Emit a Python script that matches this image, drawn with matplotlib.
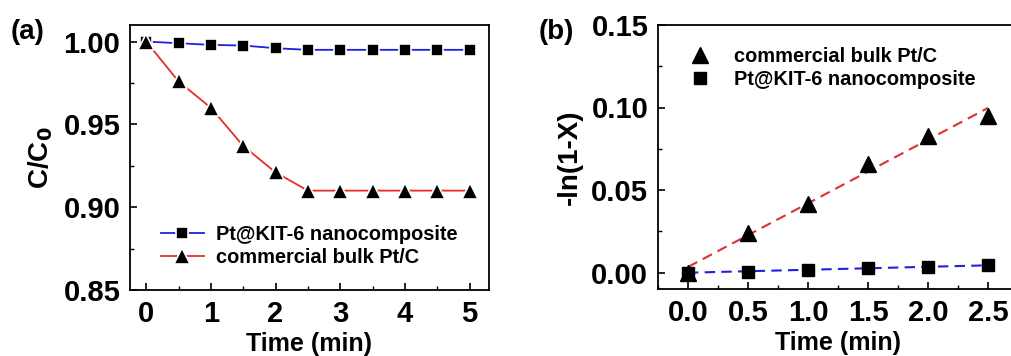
import numpy as np
import matplotlib
matplotlib.use('Agg')
import matplotlib.pyplot as plt
from matplotlib.ticker import MultipleLocator

plt.rcParams['font.family'] = ['Liberation Sans', 'DejaVu Sans']
plt.rcParams['font.weight'] = 'bold'

# ---- data (a) ----
time_a = [0, 0.5, 1, 1.5, 2, 2.5, 3, 3.5, 4, 4.5, 5]
kit6_a = [1.000, 0.999, 0.998, 0.9976, 0.996, 0.995, 0.995, 0.995, 0.995, 0.995, 0.995]
bulk_a = [1.000, 0.976, 0.960, 0.937, 0.921, 0.910, 0.910, 0.910, 0.910, 0.910, 0.910]

# ---- data (b) ----
time_b = [0, 0.5, 1.0, 1.5, 2.0, 2.5]
bulk_b = [0.000, 0.0242, 0.0416, 0.0658, 0.0828, 0.0949]
kit6_b = [0.000, 0.0006, 0.0018, 0.0025, 0.0033, 0.0045]

blue = '#2020e0'
red = '#e03030'

fig = plt.figure(figsize=(10.11, 3.56), dpi=100)
W, H = 1011, 356
ax1 = fig.add_axes([130 / W, 1 - 290 / H, 359 / W, 265 / H])
ax2 = fig.add_axes([658 / W, 1 - 289 / H, 360 / W, 264 / H])

mk = dict(markeredgecolor='white', markeredgewidth=1.2)
ax1.plot(time_a, kit6_a, '-', color=blue, lw=1.3, marker='s', markersize=9,
         markerfacecolor='black', label='Pt@KIT-6 nanocomposite', **mk)
ax1.plot(time_a, bulk_a, '-', color=red, lw=1.3, marker='^', markersize=11.5,
         markerfacecolor='black', label='commercial bulk Pt/C', **mk)
ax1.set_xlim(-0.25, 5.3)
ax1.set_ylim(0.85, 1.01)
ax1.set_xticks([0, 1, 2, 3, 4, 5])
ax1.set_yticks([0.85, 0.90, 0.95, 1.00])
ax1.set_yticklabels(['0.85', '0.90', '0.95', '1.00'])
ax1.xaxis.set_minor_locator(MultipleLocator(0.5))
ax1.yaxis.set_minor_locator(MultipleLocator(0.025))
ax1.set_xlabel('Time (min)', fontsize=18, fontweight='bold', labelpad=3)
ax1.set_ylabel('C/C$_\\mathbf{0}$', fontsize=20, fontweight='bold', labelpad=6)
ax1.legend(loc='lower left', bbox_to_anchor=(0.085, 0.085), frameon=False,
           borderaxespad=0, borderpad=0, handlelength=2.15, handletextpad=0.6,
           labelspacing=0.2, prop={'weight': 'bold', 'size': 14.4})
fig.text(11 / W, 1 - 19 / H, '(a)', fontsize=20, fontweight='bold', va='top')

# ---- panel b ----
fit_bulk = np.polyfit(time_b, bulk_b, 1)
fit_kit6 = np.polyfit(time_b, kit6_b, 1)
tt = np.array([time_b[0], time_b[-1]])
ax2.plot(tt, np.polyval(fit_bulk, tt), '--', color=red, lw=1.5, dashes=(5, 3))
ax2.plot(tt, np.polyval(fit_kit6, tt), '--', color=blue, lw=1.5, dashes=(5, 3))
ax2.plot(time_b, bulk_b, '^', color='black', markersize=11,
         label='commercial bulk Pt/C')
ax2.plot(time_b, kit6_b, 's', color='black', markersize=8.5,
         label='Pt@KIT-6 nanocomposite')
ax2.set_xlim(-0.25, 2.75)
ax2.set_ylim(-0.01, 0.15)
ax2.set_xticks([0, 0.5, 1.0, 1.5, 2.0, 2.5])
ax2.set_yticks([0.00, 0.05, 0.10, 0.15])
ax2.set_yticklabels(['0.00', '0.05', '0.10', '0.15'])
ax2.set_xticklabels(['0.0', '0.5', '1.0', '1.5', '2.0', '2.5'])
ax2.xaxis.set_minor_locator(MultipleLocator(0.25))
ax2.yaxis.set_minor_locator(MultipleLocator(0.025))
ax2.set_xlabel('Time (min)', fontsize=18, fontweight='bold', labelpad=3)
ax2.set_ylabel('-ln(1-X)', fontsize=20, fontweight='bold', labelpad=6)
ax2.legend(loc='upper left', bbox_to_anchor=(0.089, 0.915), frameon=False,
           borderaxespad=0, borderpad=0, handlelength=1.0, handletextpad=1.2,
           labelspacing=0.2, prop={'weight': 'bold', 'size': 14.4})
fig.text(539 / W, 1 - 19 / H, '(b)', fontsize=20, fontweight='bold', va='top')

for ax in (ax1, ax2):
    ax.tick_params(which='both', direction='in', top=False, right=False)
    ax.tick_params(which='major', length=5, width=1.2, labelsize=21, pad=7)
    ax.tick_params(which='minor', length=3, width=1.0)
    for lab in ax.get_xticklabels() + ax.get_yticklabels():
        lab.set_fontweight('bold')
    for sp in ax.spines.values():
        sp.set_linewidth(1.3)

fig.savefig('out.png', dpi=100)
